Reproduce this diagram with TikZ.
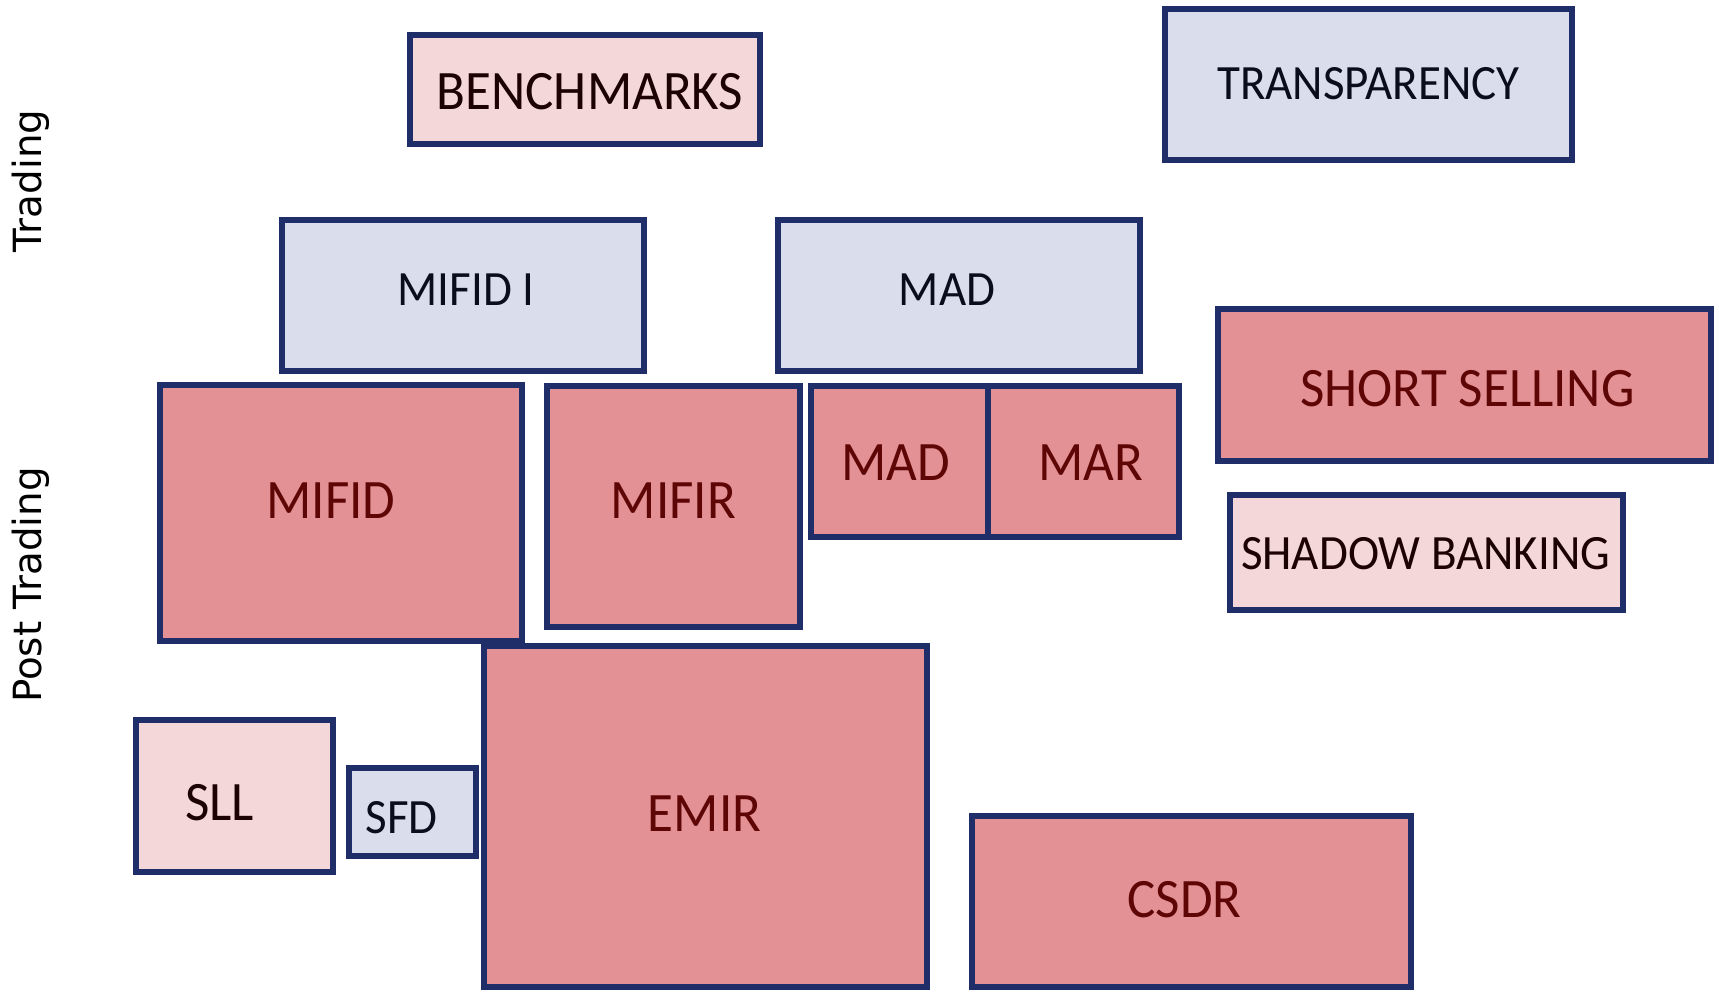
\documentclass[tikz,border=0pt]{standalone}
\usepackage{fontspec}
\setmainfont{Carlito}
\newfontfamily\sidefont{DejaVu Sans}
\usetikzlibrary{calc}
\definecolor{edge}{HTML}{1F2D69}
\definecolor{redfill}{HTML}{E39194}
\definecolor{pinkfill}{HTML}{F4D7D9}
\definecolor{bluefill}{HTML}{DADEEC}
\definecolor{redtext}{HTML}{5E0606}
\definecolor{pinktext}{HTML}{1C0202}
\definecolor{bluetext}{HTML}{0A0E1C}
\tikzset{
  regbase/.style={draw=edge, line width=2.7pt, rectangle, inner sep=0pt, line join=miter},
  redbox/.style={regbase, fill=redfill},
  pinkbox/.style={regbase, fill=pinkfill},
  bluebox/.style={regbase, fill=bluefill},
  bigtxt/.style={font=\fontsize{26.5}{30}\selectfont, inner sep=0pt, yscale=1.05},
  midtxt/.style={font=\fontsize{23.5}{27}\selectfont, inner sep=0pt, yscale=1.05},
  sidelabel/.style={font=\sidefont\fontsize{19.4}{22}\selectfont, rotate=90, inner sep=0pt, text=black},
}
% name, x1, y1, x2, y2, box style, text style, text, dx dy
\newcommand{\regbox}[9]{%
  \node[#6, minimum width={(#4-#2)*0.5pt}, minimum height={(#5-#3)*0.5pt}] (#1) at ({(#2+#4)/2},{(#3+#5)/2}) {};
  \node[#7] (#1-t) at ($(#1.center)+(#9)$) {#8};
}
\begin{document}
\begin{tikzpicture}[x=0.5pt,y=-0.5pt]
\useasboundingbox (0,0) rectangle (1719,991);
\regbox{bench}{410}{35}{760}{144}{pinkbox}{bigtxt,text=pinktext}{BENCHMARKS}{5,2}
\regbox{transp}{1165}{9}{1572}{160}{bluebox}{midtxt,text=bluetext}{TRANSPARENCY}{0,-1}
\regbox{mifidi}{282}{220}{644}{371}{bluebox}{midtxt,text=bluetext}{MIFID I}{3,-6}
\regbox{madb}{778}{220}{1140}{371}{bluebox}{midtxt,text=bluetext}{MAD}{-12,-6}
\regbox{short}{1218}{309}{1711}{461}{redbox}{bigtxt,text=redtext}{SHORT SELLING}{3,4}
\regbox{mifid}{160}{385}{522}{641}{redbox}{bigtxt,text=redtext}{MIFID}{-10,-12}
\regbox{mifir}{547}{386}{800}{627}{redbox}{bigtxt,text=redtext}{MIFIR}{0,-6}
\regbox{madr}{811}{386}{988}{537}{redbox}{bigtxt,text=redtext}{MAD}{-4,1}
\regbox{mar}{988}{386}{1179}{537}{redbox}{bigtxt,text=redtext}{MAR}{7,1}
\regbox{shadow}{1230}{495}{1623}{610}{pinkbox}{midtxt,text=pinktext}{SHADOW BANKING}{-1,1}
\regbox{sll}{136}{720}{333}{872}{pinkbox}{bigtxt,text=pinktext}{SLL}{-15,7}
\regbox{sfd}{349}{768}{476}{856}{bluebox}{midtxt,text=bluetext}{SFD}{-11,6}
\regbox{emir}{484}{646}{927}{987}{redbox}{bigtxt,text=redtext}{EMIR}{-1,-3}
\regbox{csdr}{972}{816}{1411}{987}{redbox}{bigtxt,text=redtext}{CSDR}{-7,-2}
\node[sidelabel] (trading) at (31,181) {Trading};
\node[sidelabel] (post) at (31,585) {Post Trading};
\end{tikzpicture}
\end{document}
